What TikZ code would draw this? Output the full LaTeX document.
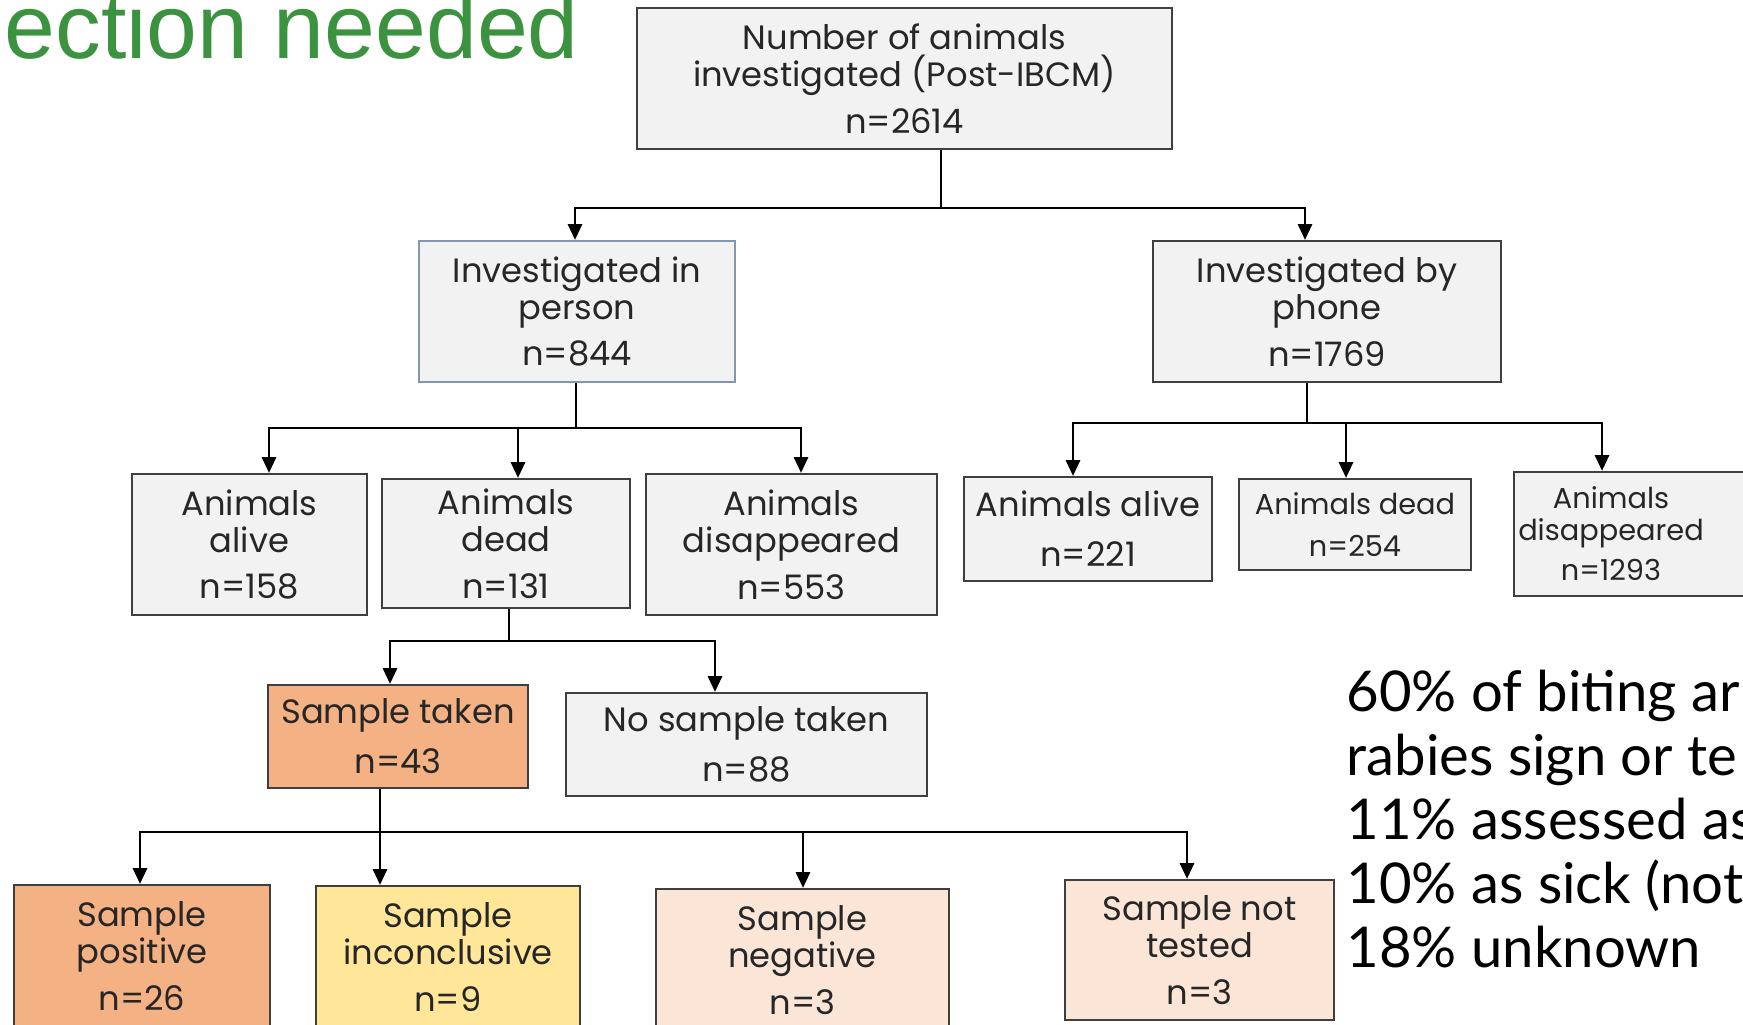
\documentclass[tikz,border=0pt]{standalone}
\usepackage{fontspec}
\setmainfont{Poppins}
\newfontfamily\notefont{Lato}
\newfontfamily\headfont{Liberation Sans}
\usetikzlibrary{arrows.meta}
\definecolor{boxgray}{HTML}{F2F2F2}
\definecolor{edgegray}{HTML}{3F3F3F}
\definecolor{bluegray}{HTML}{8497B0}
\definecolor{orangefill}{HTML}{F4B183}
\definecolor{yellowfill}{HTML}{FFE699}
\definecolor{peachfill}{HTML}{FBE5D6}
\definecolor{headgreen}{HTML}{3B923F}

\begin{document}
\begin{tikzpicture}[
    y=-1cm,
    box/.style={draw=edgegray, line width=0.6pt, fill=boxgray, align=center,
      inner sep=0pt, text=black!85, font=\fontsize{9.6}{10.5}\selectfont},
    smallbox/.style={box, font=\fontsize{8.2}{9}\selectfont},
    smalltext/.style={align=center, inner sep=0pt, text=black!85,
      font=\fontsize{8.2}{9}\selectfont},
    arr/.style={-{Triangle[length=4.5pt,width=4pt]}, line width=0.75pt},
    link/.style={line width=0.75pt}
]
\useasboundingbox (0,0) rectangle (17.43,10.25);
\clip (0,0) rectangle (17.43,10.25);

%Heading and note
\node[anchor=base west, inner sep=0pt, text=headgreen,
  font=\headfont\fontsize{26}{30}\selectfont] (head) at (0.04,0.59) {ection needed};
\node[anchor=base west, inner sep=0pt, align=left,
  font=\notefont\fontsize{16}{18.2}\selectfont] (note) at (13.46,9.67)
  {60\% of biting ar\\rabies sign or te\\11\% assessed as\\10\% as sick (not\\18\% unknown};

%Draw the boxes
\node[box, minimum width=5.35cm, minimum height=1.41cm] (top) at (9.045,0.785)
  {Number of animals\\investigated (Post-IBCM)\\[2.8pt]n=2614};
\node[box, draw=bluegray, minimum width=3.16cm, minimum height=1.41cm] (person) at (5.77,3.115)
  {Investigated in\\person\\[2.8pt]n=844};
\node[box, minimum width=3.48cm, minimum height=1.41cm] (phone) at (13.27,3.115)
  {Investigated by\\phone\\[2.8pt]n=1769};
\node[box, minimum width=2.35cm, minimum height=1.41cm] (palive) at (2.495,5.445)
  {Animals\\alive\\[2.8pt]n=158};
\node[box, minimum width=2.48cm, minimum height=1.29cm] (pdead) at (5.06,5.435)
  {Animals\\dead\\[2.8pt]n=131};
\node[box, minimum width=2.91cm, minimum height=1.41cm] (pdisap) at (7.915,5.445)
  {Animals\\disappeared\\[2.8pt]n=553};
\node[box, minimum width=2.48cm, minimum height=1.04cm] (falive) at (10.88,5.29)
  {Animals alive\\[3.7pt]n=221};
\node[smallbox, minimum width=2.32cm, minimum height=0.91cm] (fdead) at (13.55,5.245)
  {Animals dead\\[3pt]n=254};
\node[smallbox, minimum width=2.36cm, minimum height=1.24cm,
  label={[smalltext, xshift=-0.21cm]center:{Animals\\disappeared\\[2.5pt]n=1293}}] (fdisap) at (16.32,5.34) {};
\node[box, fill=orangefill, minimum width=2.60cm, minimum height=1.03cm] (staken) at (3.98,7.365)
  {Sample taken\\[3.7pt]n=43};
\node[box, minimum width=3.61cm, minimum height=1.03cm] (nosample) at (7.465,7.445)
  {No sample taken\\[3.7pt]n=88};
\node[box, fill=orangefill, minimum width=2.56cm, minimum height=1.42cm] (spos) at (1.42,9.56)
  {Sample\\positive\\[2.8pt]n=26};
\node[box, fill=yellowfill, minimum width=2.64cm, minimum height=1.42cm] (sinc) at (4.48,9.57)
  {Sample\\inconclusive\\[2.8pt]n=9};
\node[box, fill=peachfill, minimum width=2.93cm, minimum height=1.42cm] (sneg) at (8.025,9.60)
  {Sample\\negative\\[2.8pt]n=3};
\node[box, fill=peachfill, minimum width=2.69cm, minimum height=1.40cm] (snt) at (11.995,9.50)
  {Sample not\\tested\\[2.8pt]n=3};

%Draw the connections
\coordinate (j1) at (9.41,2.08);
\draw[link] (top.south -| j1) -- (j1);
\draw[arr] (j1) -| ([xshift=-0.02cm]person.north);
\draw[arr] (j1) -| ([xshift=-0.22cm]phone.north);

\coordinate (j2) at (5.76,4.28);
\draw[link] (person.south -| j2) -- (j2);
\draw[arr] (j2) -| ([xshift=0.195cm]palive.north);
\draw[arr] (j2) -| ([xshift=0.12cm]pdead.north);
\draw[arr] (j2) -| ([xshift=0.095cm]pdisap.north);

\coordinate (j3) at (13.07,4.23);
\draw[link] (phone.south -| j3) -- (j3);
\draw[arr] (j3) -| ([xshift=-0.15cm]falive.north);
\draw[arr] (j3) -| ([xshift=-0.09cm]fdead.north);
\draw[arr] (j3) -| ([xshift=-0.30cm]fdisap.north);

\coordinate (j4) at (5.09,6.41);
\draw[link] (pdead.south -| j4) -- (j4);
\draw[arr] (j4) -| ([xshift=-0.08cm]staken.north);
\draw[arr] (j4) -| ([xshift=-0.315cm]nosample.north);

\coordinate (j5) at (3.80,8.32);
\draw[arr] (staken.south -| j5) -- (sinc.north -| j5);
\draw[arr] (j5) -| ([xshift=-0.02cm]spos.north);
\draw[arr] (j5) -| ([xshift=0.005cm]sneg.north);
\draw[arr] (j5) -| ([xshift=-0.125cm]snt.north);

\end{tikzpicture}
\end{document}
